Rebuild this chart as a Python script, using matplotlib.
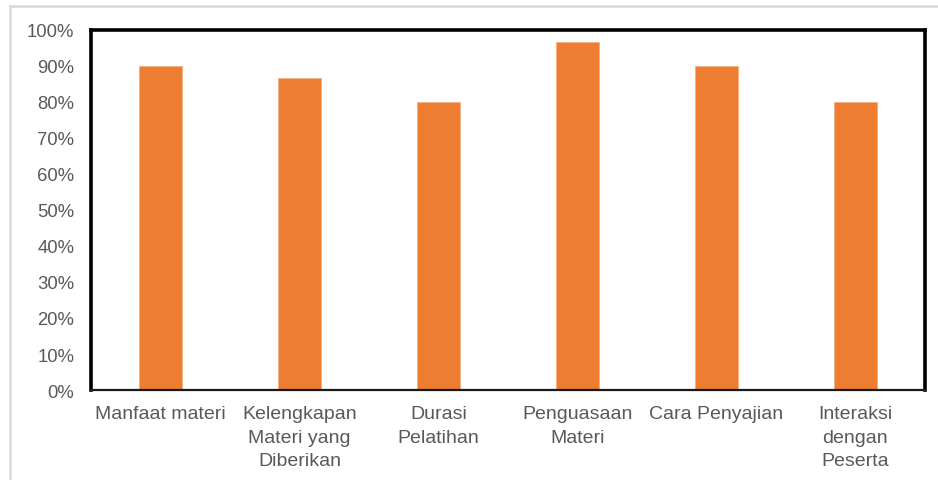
import matplotlib.pyplot as plt
from matplotlib.lines import Line2D
from matplotlib.ticker import PercentFormatter

plt.rcParams['font.family'] = ['Liberation Sans', 'DejaVu Sans']

# data
categories = ['Manfaat materi', 'Kelengkapan\nMateri yang\nDiberikan', 'Durasi\nPelatihan',
              'Penguasaan\nMateri', 'Cara Penyajian', 'Interaksi\ndengan\nPeserta']
values = [90.0, 86.67, 80.0, 96.67, 90.0, 80.0]
yticks = [0, 10, 20, 30, 40, 50, 60, 70, 80, 90, 100]

fig = plt.figure(figsize=(9.38, 4.81), dpi=100)
ax = fig.add_axes([0.097, 0.187, 0.889, 0.749])

x = range(len(categories))
ax.bar(x, values, width=0.31, color='#ED7D31', edgecolor='#F4B183', linewidth=0.6, zorder=2)

ax.set_xlim(-0.5, len(categories) - 0.5)
ax.set_ylim(0, 100)
ax.set_yticks(yticks)
ax.yaxis.set_major_formatter(PercentFormatter(decimals=0))
ax.set_xticks(list(x))
ax.set_xticklabels(categories, linespacing=1.48, fontsize=14)
ax.tick_params(axis='both', length=0, colors='#595959')
ax.tick_params(axis='y', labelsize=13.3, pad=12)
ax.tick_params(axis='x', pad=11)

# thick black frame, thinner bottom axis line
for side in ['top', 'left', 'right']:
    ax.spines[side].set_linewidth(2.6)
    ax.spines[side].set_color('black')
ax.spines['bottom'].set_linewidth(1.6)
ax.spines['bottom'].set_color('#1a1a1a')

# light gray chart-area border (top and left only visible)
fig.add_artist(Line2D([0.0107, 1.0], [0.985, 0.985], transform=fig.transFigure,
                      color='#d9d9d9', linewidth=1.8))
fig.add_artist(Line2D([0.0107, 0.0107], [0.0, 0.985], transform=fig.transFigure,
                      color='#d9d9d9', linewidth=1.8))

fig.savefig('out.png', dpi=100)
